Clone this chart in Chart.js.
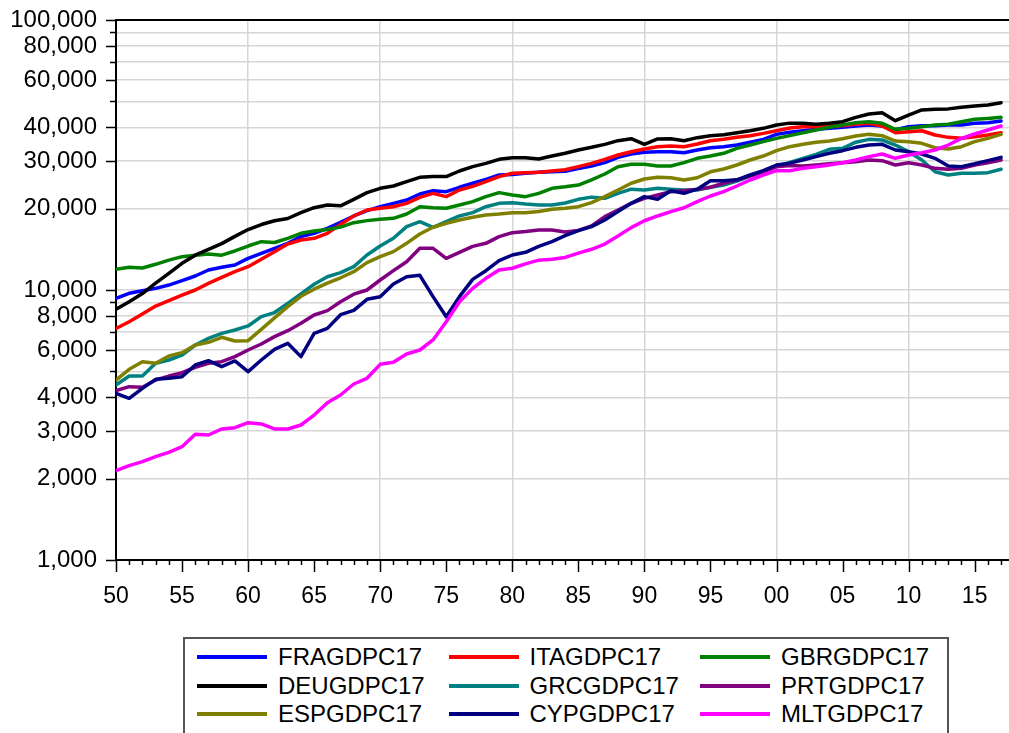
<!DOCTYPE html>
<html>
<head>
<meta charset="utf-8">
<script src="https://cdn.jsdelivr.net/npm/chart.js@4.4.0/dist/chart.umd.min.js"></script>
<style>
html,body{margin:0;padding:0;background:#fff;overflow:hidden;}
#wrap{position:relative;width:1009px;height:733px;overflow:hidden;}
#legend{position:absolute;left:183px;top:637px;width:766px;height:130px;border:2px solid #555;box-sizing:border-box;font-family:"Liberation Sans",Arial,sans-serif;font-size:24px;color:#000;background:#fff;}
.item{position:absolute;height:28px;display:flex;align-items:center;white-space:nowrap;}
.swatch{width:70px;height:4px;margin-right:11px;}
</style>
</head>
<body>
<div id="wrap">
<canvas id="c" width="1009" height="733"></canvas>
<div id="legend"></div>
</div>
<script>
const years = [1950,1951,1952,1953,1954,1955,1956,1957,1958,1959,
1960,1961,1962,1963,1964,1965,1966,1967,1968,1969,
1970,1971,1972,1973,1974,1975,1976,1977,1978,1979,
1980,1981,1982,1983,1984,1985,1986,1987,1988,1989,
1990,1991,1992,1993,1994,1995,1996,1997,1998,1999,
2000,2001,2002,2003,2004,2005,2006,2007,2008,2009,
2010,2011,2012,2013,2014,2015,2016,2017];

const seriesNames = ["FRAGDPC17","ITAGDPC17","GBRGDPC17","DEUGDPC17","GRCGDPC17","PRTGDPC17","ESPGDPC17","CYPGDPC17","MLTGDPC17"];
const seriesColors = ["#0000ff","#ff0000","#008000","#000000","#008080","#800080","#808000","#000080","#ff00ff"];

const fra = [9310,9720,9940,10140,10430,10830,11270,11860,12140,12380,
13100,13670,14270,14890,15760,16220,16920,17800,18800,19670,
20350,20940,21540,22680,23330,23130,24010,24850,25700,26660,
26800,27050,27280,27400,27550,28150,28800,29620,31000,31890,
32360,32530,32530,32260,33000,33650,33950,34430,35240,36140,
37710,38400,38900,39370,39700,40040,40500,40840,40500,39200,
40270,40610,40610,40840,40840,41430,41670,42260];

const ita = [7210,7630,8150,8720,9130,9580,10000,10580,11140,11690,
12200,12990,13870,14810,15320,15540,16220,17500,18800,19780,
20070,20350,20940,22040,22800,22170,23460,24200,25190,26300,
27050,27200,27280,27590,27900,28630,29450,30480,31620,32530,
33280,33950,34180,33950,34730,35730,36140,36760,37290,38030,
38900,39800,40270,40270,40500,40610,41080,41430,40500,38250,
38590,38900,37510,36760,36450,36980,37510,38250];

const gbr = [11930,12140,12060,12450,12900,13290,13450,13590,13460,13950,
14550,15100,15000,15540,16220,16540,16750,17100,17760,18070,
18270,18430,19120,20350,20150,20070,20640,21240,22170,22940,
22480,22170,22800,23800,24100,24480,25600,26890,28630,29200,
29200,28800,28800,29620,30740,31350,32080,33470,34430,35430,
36450,37300,38250,39140,40040,40840,41670,42020,41430,39370,
39700,40270,40840,41080,42020,42870,43200,43600];

const deu = [8480,9050,9700,10600,11530,12560,13460,14150,14850,15800,
16750,17480,18050,18400,19340,20170,20630,20500,21670,22940,
23800,24280,25190,26140,26300,26300,27590,28630,29450,30480,
30900,30900,30560,31350,32100,33000,33760,34630,35730,36350,
34630,36250,36350,35730,36660,37290,37600,38250,38900,39700,
40840,41500,41430,41080,41430,42020,43600,44860,45370,42390,
44470,46420,46700,46860,47480,48030,48440,49400];

const grc = [4450,4800,4800,5350,5505,5745,6255,6620,6910,7110,
7360,7965,8250,8925,9680,10500,11200,11600,12200,13480,
14550,15540,17170,17910,17070,17910,18800,19340,20350,20940,
21060,20820,20640,20640,21000,21670,22080,21850,22800,23630,
23460,23800,23630,23460,23460,24010,24480,25310,26410,27400,
28630,29660,30740,31810,33190,33470,35270,36140,35940,34430,
32530,30300,27400,26660,27050,27050,27200,27990];

const prt = [4238,4385,4360,4640,4800,4940,5170,5350,5425,5665,
5995,6310,6720,7070,7525,8080,8385,9050,9650,10000,
10890,11790,12730,14270,14270,13100,13790,14510,14890,15760,
16310,16460,16690,16690,16400,16620,17260,18690,19780,20940,
21850,22480,23130,23330,23630,24010,24850,25550,26410,27400,
28630,28900,28800,29040,29330,29620,29870,30300,30130,29040,
29620,29040,28220,27990,28220,29040,29620,30300];

const esp = [4640,5085,5425,5350,5695,5860,6255,6400,6680,6475,
6490,7150,7880,8680,9480,10070,10600,11100,11690,12630,
13290,13870,14890,16120,17070,17660,18170,18590,18960,19120,
19340,19340,19520,19900,20070,20350,21060,22170,23460,24850,
25770,26140,26050,25550,26050,27400,28060,29040,30300,31350,
32810,33950,34630,35270,35630,36350,37190,37710,37290,35630,
35430,34930,33650,33280,33950,35430,36450,37710];

const cyp = [4143,3970,4323,4668,4708,4775,5275,5475,5200,5460,
4983,5505,6030,6345,5665,6910,7210,8100,8400,9235,
9440,10520,11205,11330,9450,7965,9450,10950,11790,12840,
13480,13790,14510,15100,15900,16600,17160,18170,19520,20940,
22170,21670,23330,22800,23630,25390,25390,25600,26660,27670,
29040,29500,30300,31180,32080,32810,33760,34430,34630,33000,
32530,31890,30740,28800,28630,29330,30130,31000];

const mlt = [2142,2236,2313,2414,2505,2628,2920,2904,3057,3092,
3226,3190,3057,3057,3162,3443,3824,4084,4486,4710,
5305,5396,5795,5995,6530,7630,9050,10140,11050,11860,
12040,12490,12900,13000,13200,13700,14150,14790,15850,17020,
18050,18800,19520,20170,21240,22290,23130,24280,25550,26660,
27670,27630,28220,28630,29040,29620,30300,31180,31890,30740,
31620,32260,33000,34430,36450,37820,39140,40500];

const seriesValues = [fra, ita, gbr, deu, grc, prt, esp, cyp, mlt];

const yTicks = [1000,2000,3000,4000,5000,6000,7000,8000,9000,
10000,20000,30000,40000,50000,60000,70000,80000,90000,100000];
const yLabeled = [1000,2000,3000,4000,6000,8000,10000,20000,30000,40000,60000,80000,100000];
const xLabelStep = 5;
const xGridStep = 10;

const FONT = '"Liberation Sans", Arial, sans-serif';
const GRID = '#d6d6d6';

const tickMarks = {
  id: 'tickMarks',
  afterDraw(chart) {
    const {ctx, chartArea: a, scales: {x, y}} = chart;
    ctx.save();
    ctx.strokeStyle = '#000';
    ctx.lineWidth = 1.5;
    ctx.beginPath();
    years.forEach(v => {
      const px = Math.round(x.getPixelForValue(v)) + 0.5;
      const len = v % xLabelStep === 0 ? 12 : 5;
      ctx.moveTo(px, a.bottom);
      ctx.lineTo(px, a.bottom + len);
    });
    yTicks.forEach(v => {
      const py = Math.round(y.getPixelForValue(v)) + 0.5;
      const len = yLabeled.includes(v) ? 10 : 6;
      ctx.moveTo(a.left, py);
      ctx.lineTo(a.left - len, py);
    });
    ctx.stroke();
    ctx.lineWidth = 2;
    ctx.beginPath();
    ctx.moveTo(a.left - 1, a.top);
    ctx.lineTo(a.right, a.top);
    ctx.stroke();
    ctx.restore();
  }
};

const datasets = seriesNames.map((name, i) => ({
  label: name,
  data: years.map((yr, j) => ({x: yr, y: seriesValues[i][j]})),
  borderColor: seriesColors[i],
  backgroundColor: seriesColors[i],
  borderWidth: 3.5,
  pointRadius: 0,
  tension: 0,
  borderJoinStyle: 'round',
  borderCapStyle: 'round',
  order: seriesNames.length - i
}));

new Chart(document.getElementById('c'), {
  type: 'line',
  data: {datasets},
  options: {
    responsive: false,
    animation: false,
    devicePixelRatio: 1,
    layout: {padding: {top: 20, right: 0, left: 0, bottom: 0}},
    plugins: {legend: {display: false}, tooltip: {enabled: false}},
    scales: {
      x: {
        type: 'linear', min: 1950, max: 2017.6,
        afterBuildTicks: s => { s.ticks = years.map(v => ({value: v})); },
        afterFit: s => { s.height = 173; s.paddingLeft = 0; s.paddingRight = 0; },
        grid: {
          drawTicks: false, lineWidth: 1.5,
          color: c => (c.tick && c.tick.value % xGridStep === 0 && c.tick.value !== years[0]) ? GRID : 'rgba(0,0,0,0)'
        },
        border: {color: '#000', width: 2},
        ticks: {
          autoSkip: false, maxRotation: 0, minRotation: 0, padding: 23, color: '#000',
          font: {family: FONT, size: 23},
          callback: v => (v % xLabelStep === 0) ? String(v % 100).padStart(2, '0') : ''
        }
      },
      y: {
        type: 'logarithmic', min: 1000, max: 100000,
        afterBuildTicks: s => { s.ticks = yTicks.map(v => ({value: v})); },
        afterFit: s => { s.width = 116; s.paddingTop = 0; s.paddingBottom = 0; },
        grid: {drawTicks: false, lineWidth: 1.5, color: GRID},
        border: {color: '#000', width: 2},
        ticks: {
          autoSkip: false, padding: 19, color: '#000',
          font: {family: FONT, size: 24},
          callback: v => yLabeled.includes(v) ? v.toLocaleString('en-US') : ''
        }
      }
    }
  },
  plugins: [tickMarks]
});

// legend (3 columns)
const legend = document.getElementById('legend');
seriesNames.forEach((name, i) => {
  const row = Math.floor(i / 3), col = i % 3;
  const it = document.createElement('div');
  it.className = 'item';
  it.style.left = (12 + col * 251.5) + 'px';
  it.style.top = (4.3 + row * 28.4) + 'px';
  const sw = document.createElement('span');
  sw.className = 'swatch';
  sw.style.background = seriesColors[i];
  const tx = document.createElement('span');
  tx.textContent = name;
  it.appendChild(sw); it.appendChild(tx);
  legend.appendChild(it);
});
</script>
</body>
</html>
